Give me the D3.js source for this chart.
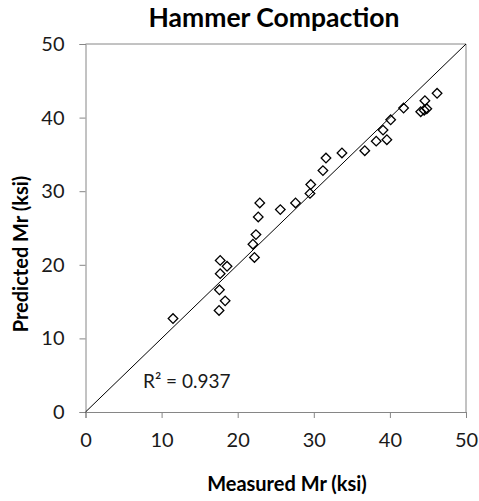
<!DOCTYPE html>
<html>
<head>
<meta charset="utf-8">
<script src="https://cdn.jsdelivr.net/npm/d3@7"></script>
<style>
  html, body { margin: 0; padding: 0; background: #fff; }
  svg { display: block; font-family: Lato, "Open Sans", "DejaVu Sans", sans-serif; }
</style>
</head>
<body>
<svg id="chart" width="479" height="501"></svg>
<script>
// Measured vs predicted resilient modulus (ksi)
const measured = [11.5, 17.55, 17.6, 18.35, 17.7, 17.7, 18.6, 22.2, 22.0, 22.4, 22.7, 22.9,
  25.6, 27.6, 29.5, 29.6, 31.2, 31.6, 33.7, 36.7, 38.2, 39.6, 39.1, 40.1, 41.8,
  44.05, 44.5, 44.85, 44.6, 46.2];
const predicted = [12.7, 13.8, 16.6, 15.1, 18.8, 20.6, 19.8, 21.0, 22.8, 24.1, 26.5, 28.4,
  27.5, 28.4, 29.7, 30.9, 32.8, 34.5, 35.2, 35.5, 36.8, 37.0, 38.3, 39.7, 41.3,
  40.8, 41.0, 41.2, 42.3, 43.3];
const tickValues = [0, 10, 20, 30, 40, 50];
const equalityLine = [[0, 0], [50, 50]];
const r2Label = "R² = 0.937";

const svg = d3.select("#chart");
const plot = { left: 85.5, right: 466, top: 44, bottom: 412 };

const x = d3.scaleLinear().domain([0, 50]).range([plot.left, plot.right]);
const y = d3.scaleLinear().domain([0, 50]).range([plot.bottom, plot.top]);

const axisColor = "#868686";

// Plot frame (top and right edges)
svg.append("path")
  .attr("d", `M${plot.left},${plot.top}H${plot.right}V${plot.bottom}`)
  .attr("fill", "none").attr("stroke", axisColor).attr("stroke-width", 1);

// Axes
const xAxis = svg.append("g")
  .attr("transform", `translate(0,${plot.bottom})`)
  .call(d3.axisBottom(x).tickValues(tickValues).tickSize(6).tickPadding(15));
const yAxis = svg.append("g")
  .attr("transform", `translate(${plot.left},0)`)
  .call(d3.axisLeft(y).tickValues(tickValues).tickSize(6).tickPadding(15));

[xAxis, yAxis].forEach(g => {
  g.selectAll("path, line").attr("stroke", axisColor);
  g.selectAll("text").attr("fill", "#1a1a1a").style("font-size", "20px")
    .style("font-family", "Lato, 'Open Sans', sans-serif");
});

// 1:1 line
svg.append("line")
  .attr("x1", x(equalityLine[0][0])).attr("y1", y(equalityLine[0][1]))
  .attr("x2", x(equalityLine[1][0])).attr("y2", y(equalityLine[1][1]))
  .attr("stroke", "#000").attr("stroke-width", 1);

// Data points as hollow diamonds
const diamond = d3.symbol().type(d3.symbolSquare).size(46);
svg.append("g").selectAll("path")
  .data(measured.map((m, i) => [m, predicted[i]]))
  .join("path")
  .attr("d", diamond)
  .attr("transform", d => `translate(${x(d[0])},${y(d[1])}) rotate(45)`)
  .attr("fill", "none")
  .attr("stroke", "#000").attr("stroke-width", 1.3);

// R² annotation
svg.append("text")
  .attr("x", 143).attr("y", 388)
  .style("font-size", "19px").attr("fill", "#1a1a1a")
  .text(r2Label);

// Title
svg.append("text")
  .attr("x", 274).attr("y", 27)
  .attr("text-anchor", "middle")
  .style("font-size", "26.5px").style("font-weight", "bold").attr("fill", "#000")
  .text("Hammer Compaction");

// Axis titles
svg.append("text")
  .attr("x", 287).attr("y", 491)
  .attr("text-anchor", "middle")
  .style("font-size", "20px").style("font-weight", "bold").attr("fill", "#000")
  .text("Measured Mr (ksi)");

svg.append("text")
  .attr("transform", `translate(28,254) rotate(-90)`)
  .attr("text-anchor", "middle")
  .style("font-size", "20px").style("font-weight", "bold").attr("fill", "#000")
  .text("Predicted Mr (ksi)");
</script>
</body>
</html>
